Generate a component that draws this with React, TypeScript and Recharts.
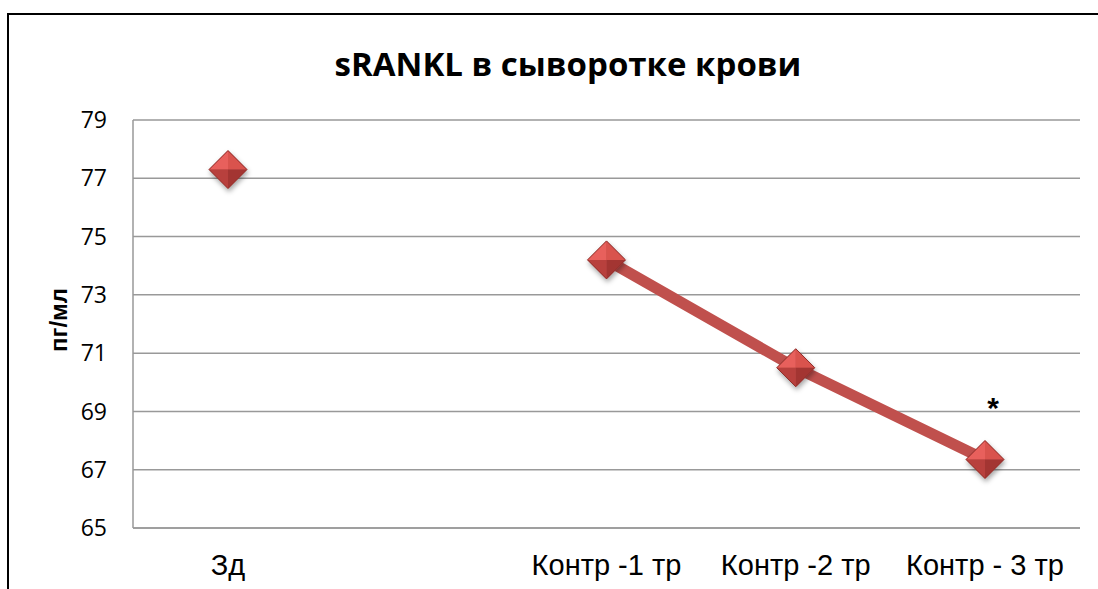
import { LineChart, Line, XAxis, YAxis, CartesianGrid, LabelList } from 'recharts'

const categories = ['Зд', '', 'Контр -1 тр', 'Контр -2 тр', 'Контр - 3 тр']
const values = [77.3, null, 74.2, 70.5, 67.35]
const notes = ['', '', '', '', '*']
const yTicks = [65, 67, 69, 71, 73, 75, 77, 79]

const data = categories.map((name, i) => ({ name, value: values[i], note: notes[i] }))

const Diamond = (props: any) => {
  const { cx, cy, value } = props
  if (value == null || cx == null || cy == null) return null
  const r = 19
  return (
    <g filter='url(#dshadow)'>
      <polygon points={`${cx},${cy - r} ${cx + r},${cy} ${cx},${cy + r} ${cx - r},${cy}`} fill='#C0504D' />
      <polygon points={`${cx},${cy - r} ${cx - r},${cy} ${cx},${cy}`} fill='#E8605B' />
      <polygon points={`${cx},${cy - r} ${cx + r},${cy} ${cx},${cy}`} fill='#D9524D' />
      <polygon points={`${cx - r},${cy} ${cx},${cy + r} ${cx},${cy}`} fill='#B8403C' />
      <polygon points={`${cx + r},${cy} ${cx},${cy + r} ${cx},${cy}`} fill='#A33532' />
      <polygon
        points={`${cx},${cy - r} ${cx + r},${cy} ${cx},${cy + r} ${cx - r},${cy}`}
        fill='none'
        stroke='#8E2E2B'
        strokeWidth={1}
      />
    </g>
  )
}

const Note = (props: any) => {
  const { x, y, value } = props
  if (!value) return null
  return (
    <text
      x={x + 8}
      y={y - 42}
      textAnchor='middle'
      fontSize={30}
      fontWeight={700}
      fontFamily='Liberation Sans, Arial, sans-serif'
      fill='#000'
    >
      {value}
    </text>
  )
}

export default function App() {
  return (
    <div style={{ position: 'fixed', left: 0, top: 0, width: 1098, height: 589, background: '#fff' }}>
      <div
        style={{
          position: 'absolute',
          left: 7,
          top: 13,
          width: 1200,
          height: 700,
          border: '2px solid #000',
          boxSizing: 'border-box'
        }}
      />
      <div
        style={{
          position: 'absolute',
          left: 0,
          top: 41,
          width: 1136,
          textAlign: 'center',
          fontFamily: 'Open Sans, sans-serif',
          fontWeight: 700,
          fontSize: 33,
          color: '#000'
        }}
      >
        sRANKL в сыворотке крови
      </div>
      <div
        style={{
          position: 'absolute',
          left: 59,
          top: 320,
          transform: 'translate(-50%, -50%) rotate(-90deg)',
          fontFamily: 'Liberation Sans, Arial, sans-serif',
          fontWeight: 700,
          fontSize: 24,
          whiteSpace: 'nowrap'
        }}
      >
        пг/мл
      </div>
      <div style={{ position: 'absolute', left: 0, top: 0 }}>
        <LineChart width={1098} height={589} data={data} margin={{ top: 120, right: 18, bottom: 21, left: 73 }}>
          <defs>
            <filter id='dshadow' x='-50%' y='-50%' width='200%' height='200%'>
              <feDropShadow dx={1} dy={3} stdDeviation={2.5} floodColor='#000' floodOpacity={0.35} />
            </filter>
          </defs>
          <CartesianGrid vertical={false} stroke='#999' strokeWidth={1.5} />
          <XAxis
            dataKey='name'
            stroke='#999'
            strokeWidth={1.5}
            tickLine={false}
            tickSize={0}
            tickMargin={26}
            height={40}
            interval={0}
            padding={{ left: 95, right: 95 }}
            tick={{ fill: '#000', fontSize: 29, fontFamily: 'Liberation Sans, Arial, sans-serif' }}
          />
          <YAxis
            domain={[65, 79]}
            ticks={yTicks}
            stroke='#999'
            strokeWidth={1.5}
            tickLine={false}
            tickSize={0}
            tickMargin={26}
            width={60}
            tick={{ fill: '#000', fontSize: 23, fontFamily: 'Open Sans, sans-serif' }}
          />
          <Line
            dataKey='value'
            stroke='#C0504D'
            strokeWidth={11}
            dot={<Diamond />}
            activeDot={false}
            isAnimationActive={false}
          >
            <LabelList dataKey='note' content={<Note />} />
          </Line>
        </LineChart>
      </div>
    </div>
  )
}
